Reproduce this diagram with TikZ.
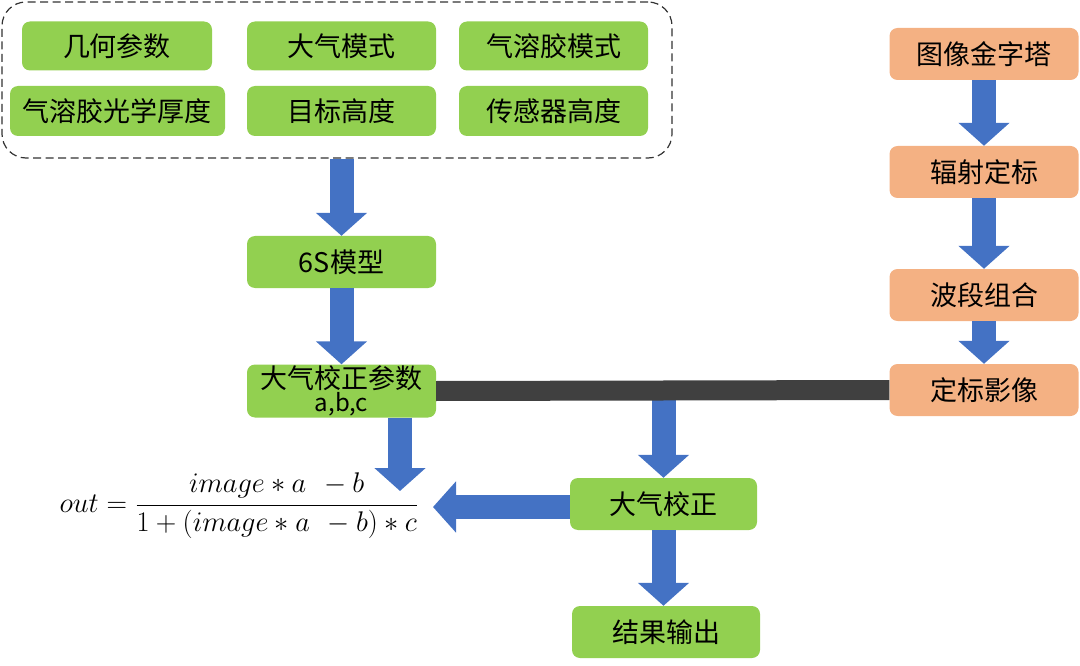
\documentclass[tikz,border=0pt]{standalone}
\usepackage{fontspec}
\setmainfont{Noto Sans CJK SC}
\usetikzlibrary{arrows.meta,calc}
\definecolor{boxgreen}{HTML}{92D050}
\definecolor{boxorange}{HTML}{F4B183}
\definecolor{arrowblue}{HTML}{4472C4}
\definecolor{bardark}{HTML}{404040}
\begin{document}
\begin{tikzpicture}[x=1pt,y=-1pt,
  gbox/.style={rectangle, rounded corners=8pt, minimum width=189pt, minimum height=52pt, inner sep=0pt, fill=boxgreen, font=\fontsize{27}{29}\selectfont},
  obox/.style={gbox, fill=boxorange},
  blk/.style={draw=arrowblue, line width=24pt, -{Triangle[width=50pt,length=23pt]}, arrowblue},
  container/.style={draw=black!80, dashed, dash pattern=on 8pt off 4.5pt, line width=1.2pt, rounded corners=24pt, minimum width=670pt, minimum height=156pt, inner sep=0pt}]
\useasboundingbox (0,0) rectangle (1080,666);
% container and inputs
\node[container] (grp) at (337,80) {};
\node[gbox, minimum width=190pt, minimum height=49pt] (geo) at (117,46) {几何参数};
\node[gbox, minimum height=49pt] (atm) at (341.5,46) {大气模式};
\node[gbox, minimum height=49pt] (aer) at (553.5,46) {气溶胶模式};
\node[gbox, minimum width=215pt, minimum height=50pt] (aod) at (117.5,111) {气溶胶光学厚度};
\node[gbox, minimum height=50pt] (tgt) at (341.5,111) {目标高度};
\node[gbox, minimum height=50pt] (sen) at (553.5,111) {传感器高度};
% left chain
\node[gbox] (s6) at (341.5,262) {6S模型};
\node[gbox, minimum height=53pt, align=center, font=\fontsize{27}{26}\selectfont] (par) at (341.5,391) {大气校正参数\\[-3pt]{\fontsize{24}{24}\selectfont a,b,c}};
\node[inner sep=0pt, font=\fontsize{22}{26}\selectfont] (frm) at (239,506) {\scalebox{1.37}{$out=\displaystyle\frac{image*a\ \,-b}{1+(image*a\ \,-b)*c}$}};
\node[gbox, minimum width=187pt] (corr) at (663.5,504) {大气校正};
\node[gbox, minimum width=188pt] (res) at (666,632) {结果输出};
% right chain
\node[obox] (pyr) at (984,54) {图像金字塔};
\node[obox] (rad) at (984,172) {辐射定标};
\node[obox] (band) at (984,295) {波段组合};
\node[obox] (cal) at (984,390) {定标影像};
% coordinates
\coordinate (j) at (663.5,390);
\coordinate (pt) at (400,491);
\coordinate (lt) at (433,507);
% arrows
\draw[blk] (grp.south -| s6.north) -- (s6.north);
\draw[blk] (s6.south) -- (par.north);
\draw[blk] (pyr.south) -- (rad.north);
\draw[blk] (rad.south) -- (band.north);
\draw[blk] (band.south) -- (cal.north);
\draw[blk] (j) -- (corr.north);
\draw[blk] (par.south -| pt) -- (pt);
\draw[blk] (corr.west |- lt) -- (lt);
\draw[blk] (corr.south) -- (corr.south |- res.north);
% bar
\draw[bardark, line width=20pt] (par.east) -- (cal.west);
\end{tikzpicture}
\end{document}
